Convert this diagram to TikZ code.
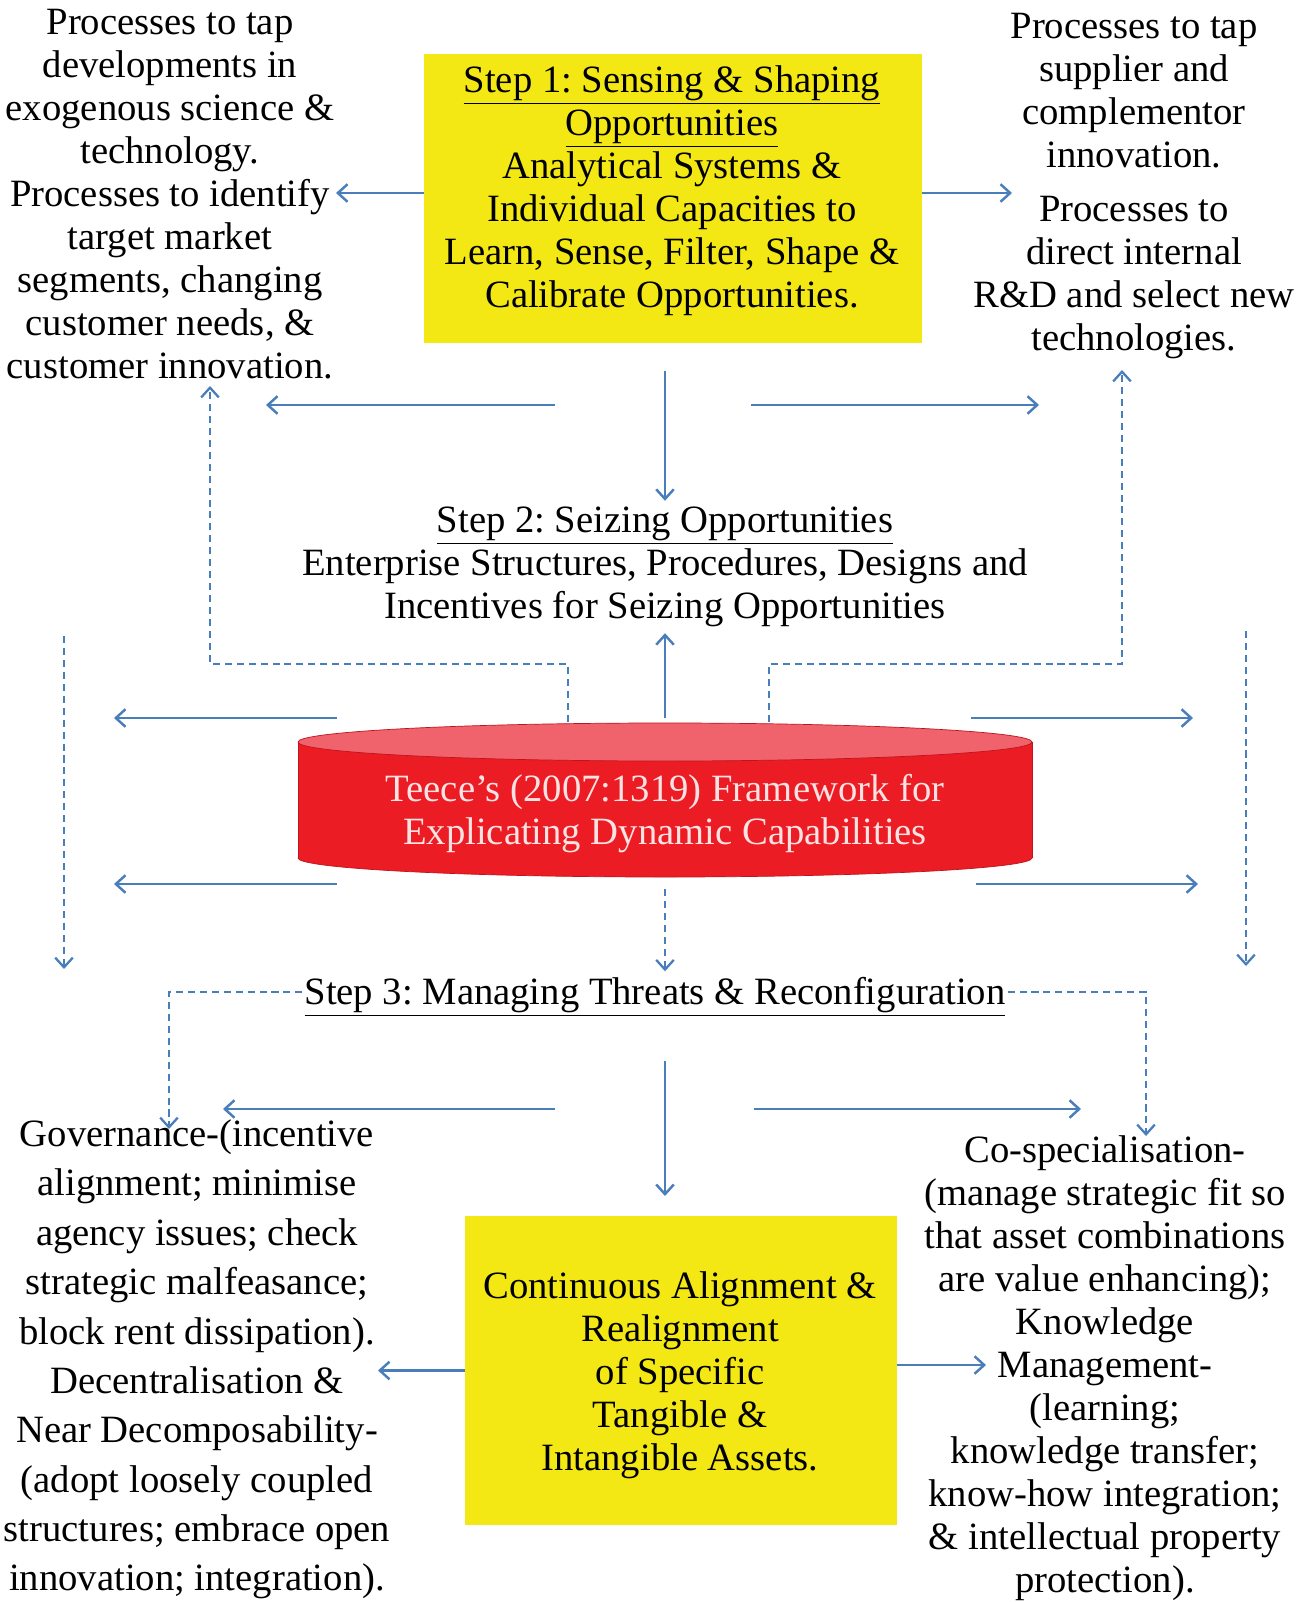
\documentclass[tikz,border=0pt]{standalone}
\usepackage{fontspec}
\setmainfont{Liberation Serif}
\usetikzlibrary{arrows.meta}
\definecolor{arrowblue}{RGB}{74,126,187}
\definecolor{boxyellow}{RGB}{243,232,20}
\definecolor{cylred}{RGB}{236,28,36}
\definecolor{cyltop}{RGB}{240,98,108}
\definecolor{cyledge}{RGB}{190,20,28}
\definecolor{cyltext}{RGB}{252,226,226}
\frenchspacing

\begin{document}
\begin{tikzpicture}[x=0.02cm,y=-0.02cm,
	txt/.style={align=center,font=\fontsize{22}{24.5}\selectfont},
	widetxt/.style={align=center,font=\fontsize{22}{28.1}\selectfont},
	ybox/.style={fill=boxyellow},
	arr/.style={draw=arrowblue,line width=1.4pt,-{Straight Barb[length=5.5pt,width=10pt]}},
	darr/.style={arr,line width=1.3pt,dash pattern=on 4pt off 2.8pt}]
		\useasboundingbox (0,0) rectangle (1310,1602);

		\node[txt] (tapSci) at (170,194) {Processes to tap\\developments in\\exogenous science \&\\technology.\\Processes to identify\\target market\\segments, changing\\customer needs, \&\\customer innovation.};
		\node[ybox,minimum width=9.96cm,minimum height=5.78cm] (sense) at (673,198.5) {};
		\node[txt] (senseText) at (672,191) {\underline{Step 1: Sensing \& Shaping}\\\underline{Opportunities}\\Analytical Systems \&\\Individual Capacities to\\Learn, Sense, Filter, Shape \&\\Calibrate Opportunities.};
		\node[txt] (tapSup) at (1134,186) {Processes to tap\\supplier and\\complementor\\innovation.\\[0.3em]Processes to\\direct internal\\R\&D and select new\\technologies.};

		\node[txt] (seize) at (665,567) {\underline{Step 2: Seizing Opportunities}\\Enterprise Structures, Procedures, Designs and\\Incentives for Seizing Opportunities};

		\filldraw[fill=cylred,draw=cyledge] (665,858) ellipse [x radius=367,y radius=19];
		\fill[cylred] (298,742) rectangle (1032,858);
		\draw[cyledge] (298,742) -- (298,858) (1032,742) -- (1032,858);
		\filldraw[fill=cyltop,draw=cyledge] (665,742) ellipse [x radius=367,y radius=19];
		\node[txt,text=cyltext] (teece) at (665,814) {Teece's (2007:1319) Framework for\\Explicating Dynamic Capabilities};

		\node[txt,inner xsep=1pt] (step3) at (655,997) {\underline{Step 3: Managing Threats \& Reconfiguration}};

		\node[ybox,minimum width=8.64cm,minimum height=6.18cm] (realign) at (681,1370.5) {};
		\node[txt] (realignText) at (680,1375) {Continuous Alignment \&\\Realignment\\of Specific\\Tangible \&\\Intangible Assets.};
		\node[widetxt] (govern) at (197,1359.5) {Governance-(incentive\\alignment; minimise\\agency issues; check\\strategic malfeasance;\\block rent dissipation).\\Decentralisation \&\\Near Decomposability-\\(adopt loosely coupled\\structures; embrace open\\innovation; integration).};
		\node[txt] (cospec) at (1105,1368) {Co-specialisation-\\(manage strategic fit so\\that asset combinations\\are value enhancing);\\Knowledge\\Management-\\(learning;\\knowledge transfer;\\know-how integration;\\\& intellectual property\\protection).};

		\coordinate (supIn) at (1012,193);
		\coordinate (sciIn) at (336,193);
		\coordinate (row1L) at (555,405);
		\coordinate (row1LE) at (266,405);
		\coordinate (row1R) at (751,405);
		\coordinate (row1RE) at (1039,405);
		\coordinate (sciUp) at (210,386);
		\coordinate (supUp) at (1122,370);
		\coordinate (cylL) at (568,722);
		\coordinate (cylR) at (769,722);
		\coordinate (cylN) at (665,718);
		\coordinate (cylS) at (665,889);
		\coordinate (outLT) at (337,718);
		\coordinate (outLTE) at (114,718);
		\coordinate (outLB) at (337,884);
		\coordinate (outLBE) at (114,884);
		\coordinate (outRT) at (971,718);
		\coordinate (outRTE) at (1193,718);
		\coordinate (outRB) at (976,884);
		\coordinate (outRBE) at (1198,884);
		\coordinate (sideL) at (64,636);
		\coordinate (sideLE) at (64,969);
		\coordinate (sideR) at (1246,631);
		\coordinate (sideRE) at (1246,966);
		\coordinate (govIn) at (169,1129);
		\coordinate (cosIn) at (1146,1136);
		\coordinate (row3L) at (555,1109);
		\coordinate (row3LE) at (223,1109);
		\coordinate (row3R) at (754,1109);
		\coordinate (row3RE) at (1081,1109);
		\coordinate (row3D) at (665,1061);
		\coordinate (row3DE) at (665,1196);
		\coordinate (govArr) at (378,1370.5);
		\coordinate (cosArr) at (986,1365);

		\draw[arr] (sense.west |- sciIn) -- (sciIn);
		\draw[arr] (sense.east |- supIn) -- (supIn);
		\draw[arr] (row1L) -- (row1LE);
		\draw[arr] (row1R) -- (row1RE);
		\draw[arr,shorten <=0.56cm] (sense.south -| seize.north) -- (seize.north);
		\draw[darr] (cylL) -- ++(0,-58) -| (sciUp);
		\draw[darr] (cylR) -- ++(0,-58) -| (supUp);
		\draw[arr] (cylN) -- (seize.south);

		\draw[arr] (outLT) -- (outLTE);
		\draw[arr] (outLB) -- (outLBE);
		\draw[arr] (outRT) -- (outRTE);
		\draw[arr] (outRB) -- (outRBE);
		\draw[darr] (sideL) -- (sideLE);
		\draw[darr] (sideR) -- (sideRE);
		\draw[darr] (cylS) -- (cylS |- step3.north);

		\draw[darr] ([yshift=0.1cm]step3.west) -| (govIn);
		\draw[darr] ([yshift=0.1cm]step3.east) -| (cosIn);
		\draw[arr] (row3L) -- (row3LE);
		\draw[arr] (row3R) -- (row3RE);
		\draw[arr] (row3D) -- (row3DE);
		\draw[arr] (realign.west) -- (govArr);
		\draw[arr] (realign.east |- cosArr) -- (cosArr);
\end{tikzpicture}
\end{document}
